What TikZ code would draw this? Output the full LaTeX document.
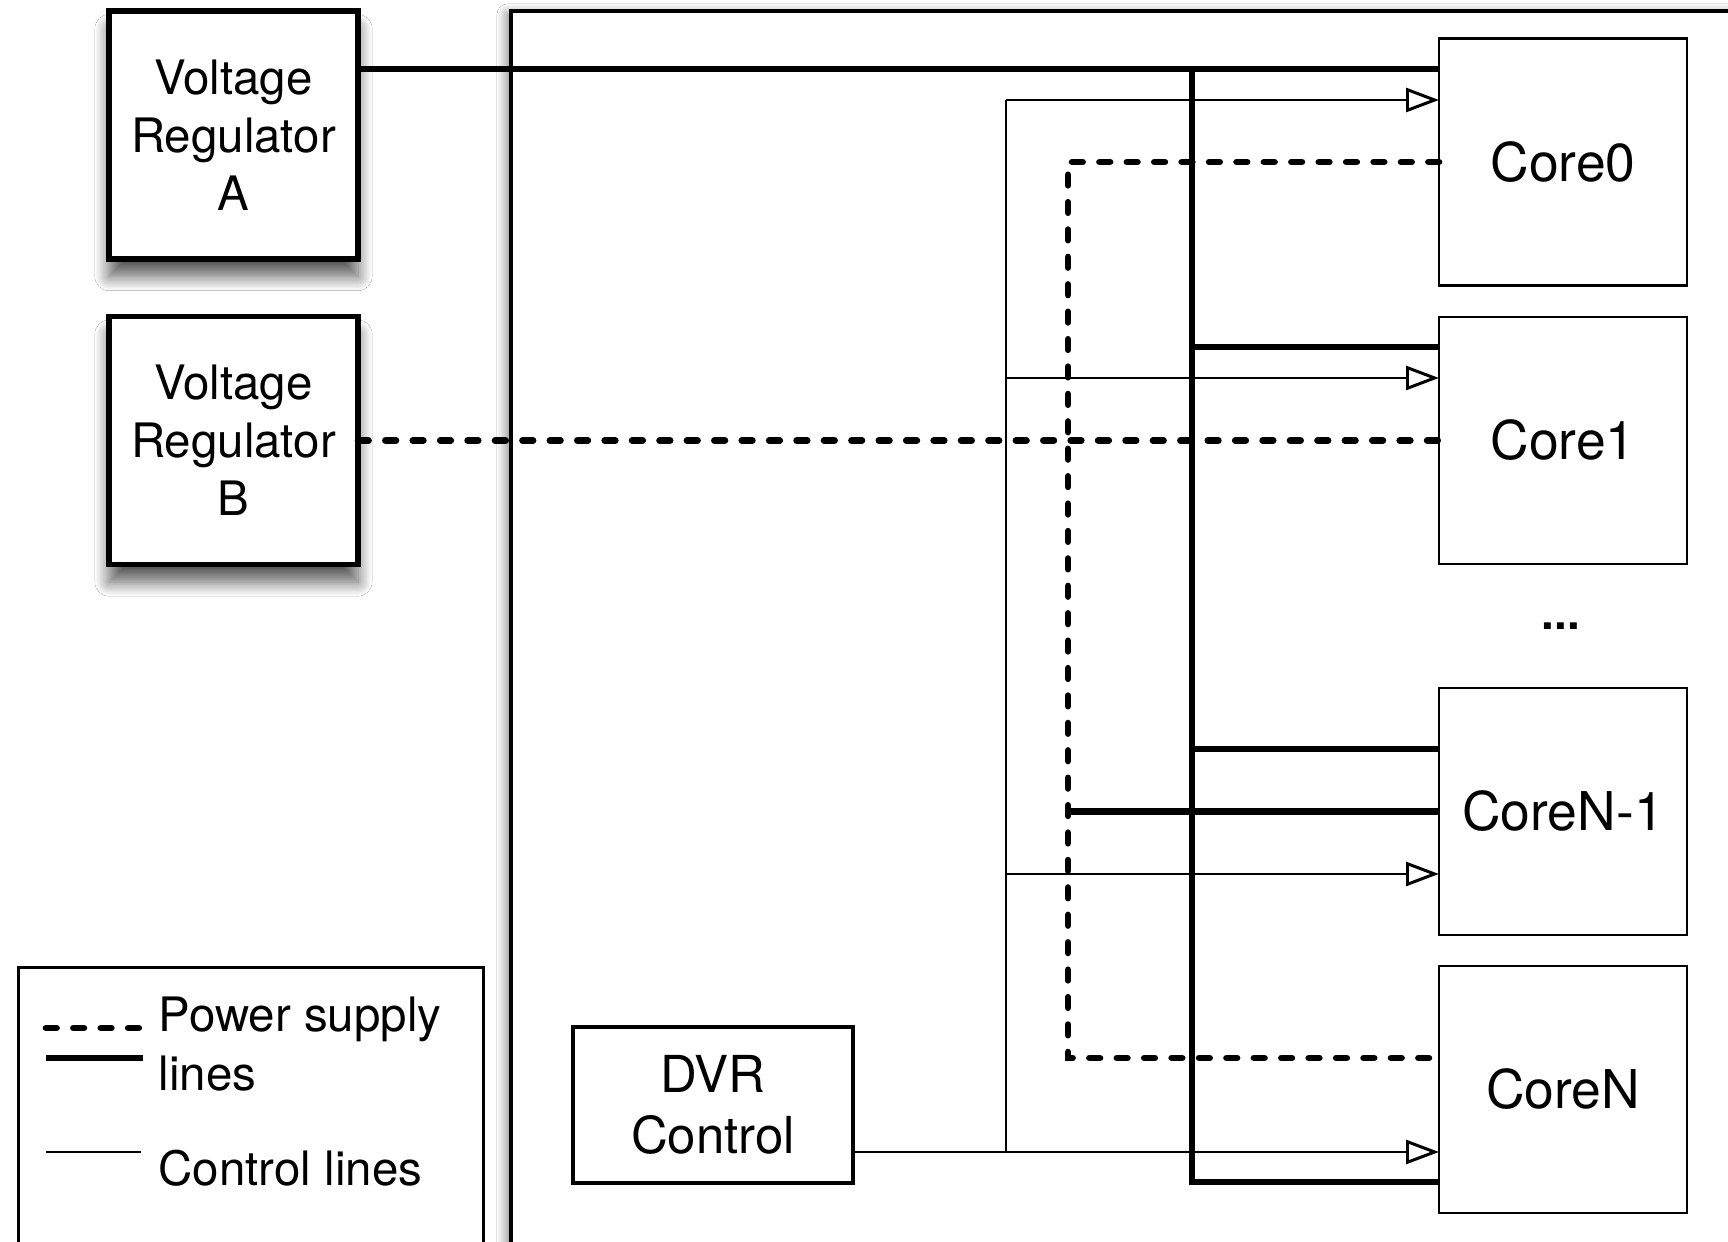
\documentclass[tikz,border=0pt]{standalone}
\usepackage{fontspec}
\setmainfont{TeX Gyre Heros}
\usepackage{tikz}
\usetikzlibrary{
  arrows.meta,
  positioning,
  calc,
  shadows.blur
}

\begin{document}
\begin{tikzpicture}[
  vrbox/.style={draw, fill=white, line width=1.5pt, inner sep=0pt, outer sep=0pt,
                minimum width=2.49cm, minimum height=2.48cm, align=center,
                font=\fontsize{13.5}{16.5}\selectfont,
                blur shadow={shadow xshift=0pt, shadow yshift=-5pt, shadow blur radius=4pt,
                             shadow blur steps=12, shadow opacity=65}},
  corebox/.style={draw, fill=white, line width=0.8pt, inner sep=0pt, outer sep=0pt,
                minimum width=2.48cm, minimum height=2.47cm,
                font=\fontsize{15.2}{18}\selectfont},
  rail/.style={line width=1.9pt},
  railB/.style={rail, dash pattern=on 3pt off 4.8pt, line cap=round},
  ctrl/.style={line width=0.75pt},
  ctrlarr/.style={ctrl, -{Triangle[open, length=3.3mm, width=2.4mm, line width=0.85pt]}},
  legtext/.style={font=\fontsize{13.5}{17}\selectfont, align=left, anchor=west, inner sep=0pt}
]
  \clip (0,0) rectangle (17.28,-12.42);
  \fill[white] (0,0) rectangle (17.28,-12.42);

  % chip outline and legend
  \node[draw, fill=white, line width=0.9pt, inner sep=0pt, outer sep=0pt, anchor=north west,
        minimum width=13cm, minimum height=13.2cm,
        blur shadow={shadow xshift=-1pt, shadow yshift=-1pt, shadow blur radius=3pt,
                     shadow blur steps=10, shadow opacity=55}]
        (chip) at (5.11,-0.11) {};
  \node[draw, fill=white, line width=0.9pt, inner sep=0pt, anchor=north west,
        minimum width=4.65cm, minimum height=3.5cm] (legend) at (0.17,-9.66) {};

  % regulators
  \node[vrbox] (vra) at (2.335,-1.35)  {Voltage\\Regulator\\A};
  \node[vrbox] (vrb) at (2.335,-4.405) {Voltage\\Regulator\\B};

  % cores
  \node[corebox] (core0)  at (15.63,-1.62)   {Core0};
  \node[corebox] (core1)  at (15.63,-4.405)  {Core1};
  \node[font=\fontsize{13}{15}\selectfont\bfseries] (dots) at (15.61,-6.26) {...};
  \node[corebox] (coreN1) at (15.63,-8.115)  {CoreN-1};
  \node[corebox] (coreN)  at (15.63,-10.895) {CoreN};

  \node[draw, fill=white, line width=1.3pt, inner sep=0pt, outer sep=0pt,
        minimum width=2.80cm, minimum height=1.56cm, align=center,
        font=\fontsize{14.5}{17.2}\selectfont] (dvr) at (7.13,-11.05) {DVR\\Control};

  % supply rail A
  \coordinate (railTop) at (11.92,-0.69);
  \coordinate (railBot) at (11.92,-11.82);
  \draw[rail] (vra.east |- railTop) -- (core0.west |- railTop);
  \draw[rail] (railTop) -- (railBot) -- (coreN.west |- railBot);
  \foreach \core/\y in {core1/-3.47, coreN1/-7.49}{
    \draw[rail] (railTop |- 0,\y) -- (\core.west |- 0,\y);
  }

  % supply rail B
  \coordinate (railBx) at (10.68,-1.62);
  \draw[railB] (vrb.east) -- (core1.west);
  \draw[railB] (core0.west) -| (railBx |- 0,-10.58) -- (coreN.west |- 0,-10.58);
  \draw[rail] (railBx |- coreN1.west) -- (coreN1.west);

  % control lines
  \coordinate (ctlTop) at (10.06,-1.00);
  \coordinate (ctlBot) at (10.06,-11.52);
  \draw[ctrl] (ctlTop) -- (ctlBot);
  \draw[ctrlarr] (dvr.east |- ctlBot) -- (coreN.west |- ctlBot);
  \foreach \core/\y in {core0/-1.00, core1/-3.78, coreN1/-8.74}{
    \draw[ctrlarr] (ctlTop |- 0,\y) -- (\core.west |- 0,\y);
  }

  % legend
  \coordinate (legA) at (0.46,-10.28);
  \coordinate (legB) at (0.46,-10.58);
  \coordinate (legC) at (0.46,-11.52);
  \draw[railB] (legA) -- ++(0.97,0);
  \draw[rail]  (legB) -- ++(0.97,0);
  \draw[ctrl]  (legC) -- ++(0.95,0);
  \node[legtext] (legPow) at (1.58,-10.44) {Power supply\\lines};
  \node[legtext] (legCtl) at (1.58,-11.68) {Control lines};
\end{tikzpicture}
\end{document}
